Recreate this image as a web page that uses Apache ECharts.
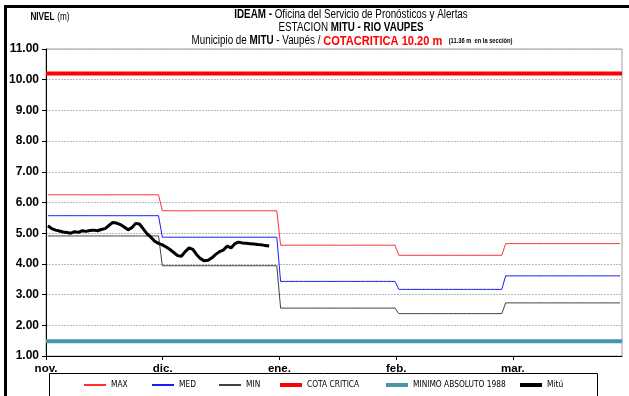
<!DOCTYPE html>
<html>
<head>
<meta charset="utf-8">
<script src="https://cdn.jsdelivr.net/npm/echarts@6/dist/echarts.min.js"></script>
<style>
html, body { margin: 0; padding: 0; background: #fff; }
#chart { width: 629px; height: 396px; }
</style>
</head>
<body>
<div id="chart"></div>
<script>
// Month axis labels and the number of days in each month (nov..mar)
const monthLabels = ['nov.', 'dic.', 'ene.', 'feb.', 'mar.'];
const monthDays = [30, 31, 31, 28, 31];

// Historical monthly levels (m)
const maxLevels = [6.25, 5.73, 4.61, 4.28, 4.66];
const medLevels = [5.57, 4.87, 3.43, 3.17, 3.61];
const minLevels = [4.91, 3.94, 2.56, 2.38, 2.73];

// Reference levels (m)
const cotaCritica = 10.20;
const minimoAbsoluto = 1.48;

// Daily observed level at Mitú from 1 Nov (m)
const mituLevels = [
  5.24, 5.15, 5.10, 5.07, 5.04, 5.02, 5.00, 5.05, 5.03, 5.08,
  5.06, 5.09, 5.10, 5.08, 5.12, 5.15, 5.25, 5.35, 5.33, 5.28,
  5.20, 5.11, 5.18, 5.32, 5.30, 5.14, 4.98, 4.87, 4.74, 4.67,
  4.62, 4.55, 4.47, 4.37, 4.27, 4.25, 4.40, 4.52, 4.47, 4.30,
  4.17, 4.10, 4.12, 4.20, 4.31, 4.40, 4.45, 4.58, 4.52, 4.66,
  4.71, 4.68, 4.67, 4.66, 4.65, 4.63, 4.62, 4.60, 4.58
];

const totalDays = monthDays.reduce((a, b) => a + b, 0);
const tickStep = 30.6;
const monthTicks = monthLabels.map((_, i) => +(i * tickStep).toFixed(1));

// Expand monthly values into one point per day (centred in the day)
function dailySteps(levels) {
  const pts = [];
  let day = 0;
  monthDays.forEach((n, m) => {
    for (let k = 0; k < n; k++) { pts.push([day + 0.5, levels[m]]); day++; }
  });
  return pts;
}
function flat(v) { return [[0, v], [totalDays, v]]; }

const SANS = 'Liberation Sans, Arial, sans-serif';
const NARROW = 'DejaVu Sans Condensed, Liberation Sans, sans-serif';

const seriesDefs = [
  { name: 'MAX', data: dailySteps(maxLevels), color: '#ff3030', width: 1, icon: 2, z: 3 },
  { name: 'MED', data: dailySteps(medLevels), color: '#1a1aff', width: 1, icon: 2, z: 3 },
  { name: 'MIN', data: dailySteps(minLevels), color: '#404040', width: 1, icon: 2, z: 3 },
  { name: 'COTA CRITICA', data: flat(cotaCritica), color: '#ff0000', width: 4, icon: 4, z: 2 },
  { name: 'MINIMO ABSOLUTO 1988', data: flat(minimoAbsoluto), color: '#4596ad', width: 4, icon: 4, z: 2 },
  { name: 'Mitú', data: mituLevels.map((v, i) => [i + 0.5, v]), color: '#000000', width: 3, icon: 4, z: 5 }
];

const series = seriesDefs.map(s => ({
  name: s.name,
  type: 'line',
  data: s.data,
  symbol: 'none',
  silent: true,
  z: s.z,
  color: s.color,
  lineStyle: { color: s.color, width: s.width },
  emphasis: { disabled: true }
}));

// One legend block per entry so each sits where it belongs in the box
const legendLeft = [84, 152, 219, 280, 386, 520];
const legends = seriesDefs.map((s, i) => ({
  data: [s.name],
  left: legendLeft[i],
  top: 381,
  padding: 0,
  icon: 'rect',
  itemWidth: 22,
  itemHeight: s.icon,
  itemGap: 0,
  selectedMode: false,
  textStyle: { fontSize: 8.3, color: '#000', fontFamily: NARROW }
}));

// Heading lines are drawn with a condensed horizontal scale
function heading(x, y, text, rich, scale) {
  return {
    type: 'text', x: x, y: y, scaleX: scale, silent: true,
    style: { text: text, rich: rich, align: 'center', verticalAlign: 'middle' }
  };
}
const R = (size, weight, color) => ({ fontFamily: SANS, fontSize: size, fontWeight: weight, fill: color || '#000', color: color || '#000' });
const richStd = { n: R(12, 'normal'), b: R(12, 'bold'), r: R(13.5, 'bold', '#ff0000'), s: R(7, 'bold') };

const chart = echarts.init(document.getElementById('chart'), null, { renderer: 'canvas' });
chart.setOption({
  animation: false,
  backgroundColor: '#ffffff',
  grid: { left: 46, right: 7, top: 49, bottom: 40, show: true, borderColor: '#a0a0a0', borderWidth: 1, containLabel: false },
  xAxis: {
    type: 'value',
    min: 0,
    max: totalDays,
    splitLine: { show: false },
    axisLine: { show: true, lineStyle: { color: '#000', width: 1 } },
    axisTick: { show: true, customValues: monthTicks, length: 4, inside: false, lineStyle: { color: '#000' } },
    axisLabel: {
      customValues: monthTicks,
      margin: 7,
      fontFamily: SANS, fontSize: 11.5, fontWeight: 'bold', color: '#000',
      formatter: v => monthLabels[Math.round(v / tickStep)] || ''
    }
  },
  yAxis: {
    type: 'value',
    min: 1,
    max: 11,
    interval: 1,
    axisLine: { show: true, lineStyle: { color: '#000', width: 1 } },
    axisTick: { show: true, length: 4, inside: false, lineStyle: { color: '#000' } },
    axisLabel: {
      margin: 7,
      fontFamily: SANS, fontSize: 12, fontWeight: 'bold', color: '#000',
      formatter: v => v.toFixed(2)
    },
    splitLine: { show: true, lineStyle: { color: '#b8b8b8', type: [2, 1], width: 1 } }
  },
  legend: legends,
  series: series,
  graphic: [
    heading(50, 17, '{b|NIVEL} {n|(m)}', { b: R(10, 'bold'), n: R(10, 'normal') }, 0.82),
    heading(351, 15, '{b|IDEAM -} {n|Oficina del Servicio de Pronósticos y Alertas}', richStd, 0.82),
    heading(351, 28, '{n|ESTACION }{b|MITU - RIO VAUPES}', richStd, 0.82),
    heading(352, 41, '{n|Municipio de }{b|MITU}{n| - Vaupés / }{r|COTACRITICA 10.20 m}{s|    (11.36 m  en la sección)}', richStd, 0.82),
    { type: 'rect', shape: { x: 49.5, y: 373.5, width: 548, height: 30 }, style: { fill: 'none', stroke: '#000', lineWidth: 1 }, silent: true, z: 0 },
    { type: 'rect', shape: { x: 4, y: 5, width: 625, height: 3 }, style: { fill: '#000' }, silent: true },
    { type: 'rect', shape: { x: 4, y: 5, width: 3, height: 391 }, style: { fill: '#000' }, silent: true }
  ]
});
</script>
</body>
</html>
